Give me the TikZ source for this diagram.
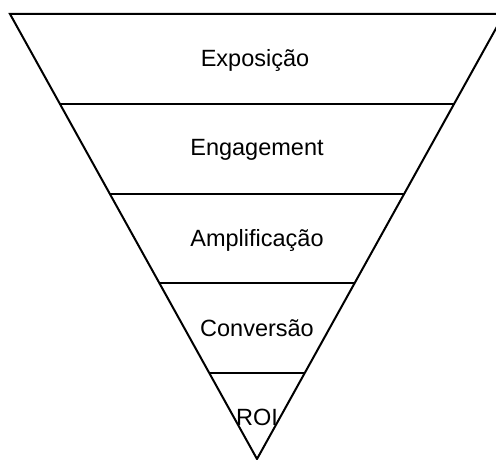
\documentclass[tikz,border=0pt]{standalone}
\usepackage{fontspec}
\setmainfont{Liberation Sans}
\usetikzlibrary{calc, positioning}

\begin{document}
\begin{tikzpicture}[
    x=1pt, y=-1pt,
    funnel/.style={draw=black, line width=2pt, line join=miter},
    level/.style={draw=black, line width=2pt},
    stage/.style={font=\fontsize{23.5}{26}\selectfont, inner sep=0pt, anchor=center}
]
    \useasboundingbox (0,0) rectangle (496,460);

    % --- Funnel outline ---
    \coordinate (tl) at (10,14);
    \coordinate (tr) at (504,14);
    \coordinate (apex) at (257,459);
    \draw [funnel] (tl) -- (tr) -- (apex) -- cycle;

    % --- Level lines ---
    \foreach \t/\name in {0.798/a, 0.5955/b, 0.3955/c, 0.193/d} {
        \coordinate (l\name) at ($(apex)!\t!(tl)$);
        \coordinate (r\name) at ($(apex)!\t!(tr)$);
        \draw [level] (l\name) -- (r\name);
    }

    % --- Stage labels ---
    \node (expo) [stage] at (255,60) {Exposição};
    \node (eng) [stage] at (257,150) {Engagement};
    \node (ampl) [stage] at (257,240) {Amplificação};
    \node (conv) [stage] at (257,328) {Conversão};
    \node (roi) [stage] at (257,417) {ROI};

\end{tikzpicture}
\end{document}
